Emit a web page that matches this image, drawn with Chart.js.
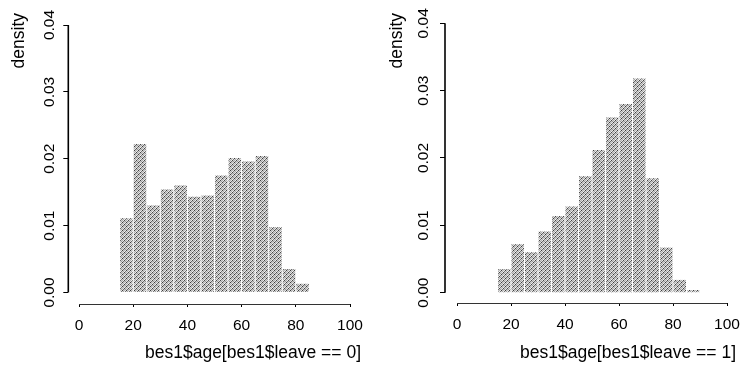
<!DOCTYPE html>
<html>
<head>
<meta charset="utf-8">
<script src="https://cdn.jsdelivr.net/npm/chart.js@4.4.1/dist/chart.umd.min.js"></script>
<style>
  html, body { margin: 0; padding: 0; background: #fff; }
  #wrap { position: relative; width: 742px; height: 366px; overflow: hidden; }
  .panel { position: absolute; top: 0; width: 371px; height: 366px; }
</style>
</head>
<body>
<div id="wrap">
  <div class="panel" style="left:0"><canvas id="c1" width="371" height="366"></canvas></div>
  <div class="panel" style="left:371px"><canvas id="c2" width="371" height="366"></canvas></div>
</div>
<script>
// ---- data ----
const ageBinStarts = [15, 20, 25, 30, 35, 40, 45, 50, 55, 60, 65, 70, 75, 80, 85];
const binWidth = 5;
const densityRemain = [0.0111, 0.0222, 0.0130, 0.0154, 0.0160, 0.0143, 0.0145, 0.0175, 0.0201, 0.0196, 0.0204, 0.0098, 0.0035, 0.0013, 0];
const densityLeave  = [0.0035, 0.0072, 0.0060, 0.0091, 0.0114, 0.0128, 0.0173, 0.0212, 0.0260, 0.0280, 0.0318, 0.0170, 0.0067, 0.0019, 0.0004];
const xTicks = [0, 20, 40, 60, 80, 100];
const yTicks = [0, 0.01, 0.02, 0.03, 0.04];
const yTitle = 'density';
const xTitleRemain = 'bes1$age[bes1$leave == 0]';
const xTitleLeave = 'bes1$age[bes1$leave == 1]';

Chart.defaults.font.family = "'Liberation Sans', Arial, Helvetica, sans-serif";
Chart.defaults.color = '#000';

function makeStipple(ctx) {
  const tile = document.createElement('canvas');
  tile.width = 4; tile.height = 4;
  const t = tile.getContext('2d');
  const g = [
    [70, 210, 175, 235],
    [200, 150, 225, 110],
    [185, 230, 60, 205],
    [240, 120, 215, 165]
  ];
  for (let r = 0; r < 4; r++) for (let c = 0; c < 4; c++) {
    const v = g[r][c];
    t.fillStyle = `rgb(${v},${v},${v})`;
    t.fillRect(c, r, 1, 1);
  }
  return ctx.createPattern(tile, 'repeat');
}

const rAxes = {
  id: 'rAxes',
  afterDraw(chart) {
    const {ctx, chartArea, scales: {x, y}} = chart;
    ctx.save();
    ctx.strokeStyle = '#000';
    ctx.lineWidth = 1.6;
    ctx.beginPath();
    ctx.moveTo(chartArea.left, y.getPixelForValue(yTicks[0]));
    ctx.lineTo(chartArea.left, y.getPixelForValue(yTicks[yTicks.length - 1]));
    ctx.stroke();
    ctx.strokeStyle = '#333';
    ctx.lineWidth = 1;
    ctx.beginPath();
    ctx.moveTo(x.getPixelForValue(xTicks[0]), chartArea.bottom + 0.5);
    ctx.lineTo(x.getPixelForValue(xTicks[xTicks.length - 1]), chartArea.bottom + 0.5);
    ctx.stroke();
    ctx.restore();
  }
};

function makeChart(id, values, xTitle, lay) {
  const canvas = document.getElementById(id);
  const ctx = canvas.getContext('2d');
  const pxPerX = (lay.p100 - lay.p0) / 100;
  const xMin = -(lay.p0 - lay.left) / pxPerX;
  const xMax = 100 + (lay.right - lay.p100) / pxPerX;
  const pxPerY = (lay.y0 - lay.y4) / 0.04;
  const yMax = 0.04 + (lay.y4 - lay.top) / pxPerY;
  const yMin = -(lay.bottom - lay.y0) / pxPerY;
  const pts = ageBinStarts.map((s, i) => ({x: s + binWidth / 2, y: values[i]}));

  return new Chart(ctx, {
    type: 'bar',
    data: {
      datasets: [{
        data: pts,
        backgroundColor: makeStipple(ctx),
        borderWidth: 0,
        barPercentage: 0.92,
        categoryPercentage: 1
      }]
    },
    options: {
      responsive: false,
      animation: false,
      events: [],
      layout: { padding: { left: 0, top: lay.top, right: 371 - lay.right, bottom: 0 } },
      plugins: { legend: { display: false }, tooltip: { enabled: false } },
      scales: {
        x: {
          type: 'linear',
          min: xMin, max: xMax,
          offset: false,
          afterBuildTicks: s => { s.ticks = xTicks.map(v => ({value: v})); },
          afterFit: s => { s.height = 366 - lay.bottom; s.paddingLeft = 0; s.paddingRight = 0; },
          grid: { offset: false, drawOnChartArea: false, drawTicks: true, tickLength: 3, color: '#000', lineWidth: 1 },
          border: { display: false },
          ticks: { autoSkip: false, maxRotation: 0, padding: 9, font: { size: 15.5 }, color: '#000',
                   callback: v => String(v) },
          title: { display: true, text: xTitle, align: 'end', color: '#000',
                   font: { size: 17.5 }, padding: { top: 2, bottom: 2 } }
        },
        y: {
          type: 'linear',
          min: yMin, max: yMax,
          afterBuildTicks: s => { s.ticks = yTicks.map(v => ({value: v})); },
          afterFit: s => { s.width = lay.left; s.paddingTop = 0; s.paddingBottom = 0; },
          grid: { drawOnChartArea: false, drawTicks: true, tickLength: 5, color: '#000', lineWidth: 1 },
          border: { display: false },
          ticks: { autoSkip: false, minRotation: 90, maxRotation: 90, crossAlign: 'center',
                   padding: lay.tickPad, font: { size: 15.5 }, color: '#000',
                   callback: v => v.toFixed(2) },
          title: { display: true, text: yTitle, align: 'end', color: '#000',
                   font: { size: 17.5 }, padding: { top: lay.titlePad, bottom: 0 } }
        }
      }
    },
    plugins: [rAxes]
  });
}

makeChart('c1', densityRemain, xTitleRemain,
  { left: 68.3, right: 361, p0: 79, p100: 350, y4: 25, y0: 292.5, top: 13, bottom: 304, tickPad: -1.6, titlePad: 9.0 });
makeChart('c2', densityLeave, xTitleLeave,
  { left: 74, right: 365, p0: 86, p100: 356, y4: 23.3, y0: 292.7, top: 13, bottom: 303, tickPad: 0.8, titlePad: 15.9 });
</script>
</body>
</html>
